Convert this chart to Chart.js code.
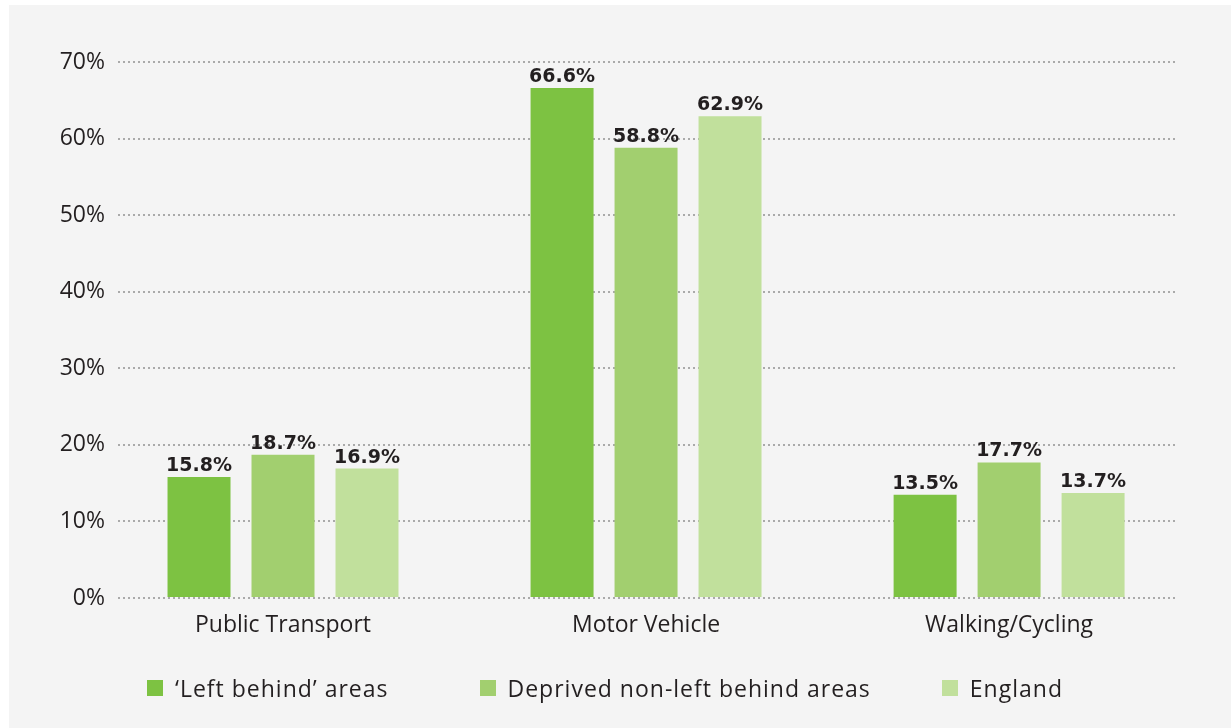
<!DOCTYPE html>
<html>
<head>
<meta charset="utf-8">
<script src="https://cdn.jsdelivr.net/npm/chart.js@4.4.0/dist/chart.umd.min.js"></script>
<style>
  html, body { margin: 0; padding: 0; background: #fff; }
  #wrap { position: absolute; left: 9px; top: 5px; width: 1222px; height: 723px; background: #f4f4f4; }
  #modes { display: block; }
  #legend { position: absolute; left: 138px; top: 667px; display: flex; line-height: 32px;
            font-family: 'Open Sans', sans-serif; font-size: 23px; letter-spacing: 1px; color: #231f20; }
  #legend .item { display: flex; align-items: center; white-space: nowrap; }
  #legend .item:nth-child(2) { margin-left: 91px; }
  #legend .item:nth-child(3) { margin-left: 71px; }
  #legend .box { width: 16px; height: 16px; margin-right: 12px; }
</style>
</head>
<body>
<div id="wrap">
  <canvas id="modes" width="1222" height="723"></canvas>
  <div id="legend"></div>
</div>
<script>
// travel to work mode, share of residents
const categories = ['Public Transport', 'Motor Vehicle', 'Walking/Cycling'];
const seriesNames = ['\u2018Left behind\u2019 areas', 'Deprived non-left behind areas', 'England'];
const leftBehind = [15.8, 66.6, 13.5];
const deprived = [18.7, 58.8, 17.7];
const england = [16.9, 62.9, 13.7];
const yTicks = [0, 10, 20, 30, 40, 50, 60, 70];
const colours = ['#7dc242', '#a2cf6f', '#c1e09c'];

const FONT = "'Open Sans', sans-serif";

function toPoints(vals) {
    return vals.map((v, i) => ({ x: i, y: v }));
}

// value labels above each bar
const barLabels = {
    id: 'barLabels',
    afterDatasetsDraw(chart) {
        const c = chart.ctx;
        c.save();
        c.font = "bold 19px 'DejaVu Sans', sans-serif";
        c.fillStyle = '#231f20';
        c.textAlign = 'center';
        c.textBaseline = 'alphabetic';
        chart.data.datasets.forEach((ds, di) => {
            chart.getDatasetMeta(di).data.forEach((bar, i) => {
                c.fillText(ds.data[i].y.toFixed(1) + '%', bar.x, bar.y - 6);
            });
        });
        c.restore();
    }
};

// legend as html under the canvas
const htmlLegend = {
    id: 'htmlLegend',
    afterUpdate(chart) {
        const box = document.getElementById('legend');
        box.innerHTML = '';
        chart.data.datasets.forEach(ds => {
            const it = document.createElement('div');
            it.className = 'item';
            const sw = document.createElement('span');
            sw.className = 'box';
            sw.style.background = ds.backgroundColor;
            const tx = document.createElement('span');
            tx.textContent = ds.label;
            it.appendChild(sw);
            it.appendChild(tx);
            box.appendChild(it);
        });
    }
};

var ctx = document.querySelector('#modes');

var data_x = {
    datasets: [leftBehind, deprived, england].map((vals, i) => ({
        label: seriesNames[i],
        data: toPoints(vals),
        backgroundColor: colours[i],
        borderWidth: 0,
        categoryPercentage: 0.694,
        barPercentage: 0.75
    }))
};

var config_x = {
    type: 'bar',
    data: data_x,
    plugins: [barLabels, htmlLegend],
    options: {
        responsive: false,
        animation: false,
        layout: { padding: { left: 0, right: 56, top: 57, bottom: 0 } },
        plugins: {
            tooltip: { enabled: false },
            legend: { display: false }
        },
        scales: {
            x: {
                type: 'linear',
                offset: false,
                bounds: 'data',
                min: -0.4545,
                max: 2.457,
                grid: { display: false },
                border: { display: false },
                afterBuildTicks(axis) {
                    axis.ticks = categories.map((c, i) => ({ value: i }));
                },
                afterFit(axis) { axis.height = 130; },
                ticks: {
                    color: '#231f20',
                    font: { family: FONT, size: 23 },
                    padding: 6,
                    callback: (v) => categories[v]
                }
            },
            y: {
                min: 0,
                max: 70,
                afterBuildTicks(axis) {
                    axis.ticks = yTicks.map(v => ({ value: v }));
                },
                afterFit(axis) { axis.width = 109; },
                grid: {
                    color: '#aaaaaa',
                    lineWidth: 2,
                    drawTicks: false
                },
                border: { display: false, dash: [2, 3] },
                ticks: {
                    color: '#231f20',
                    font: { family: FONT, size: 23 },
                    padding: 13,
                    callback: (v) => v + '%'
                }
            }
        }
    }
};

new Chart(ctx, config_x);
</script>
</body>
</html>
